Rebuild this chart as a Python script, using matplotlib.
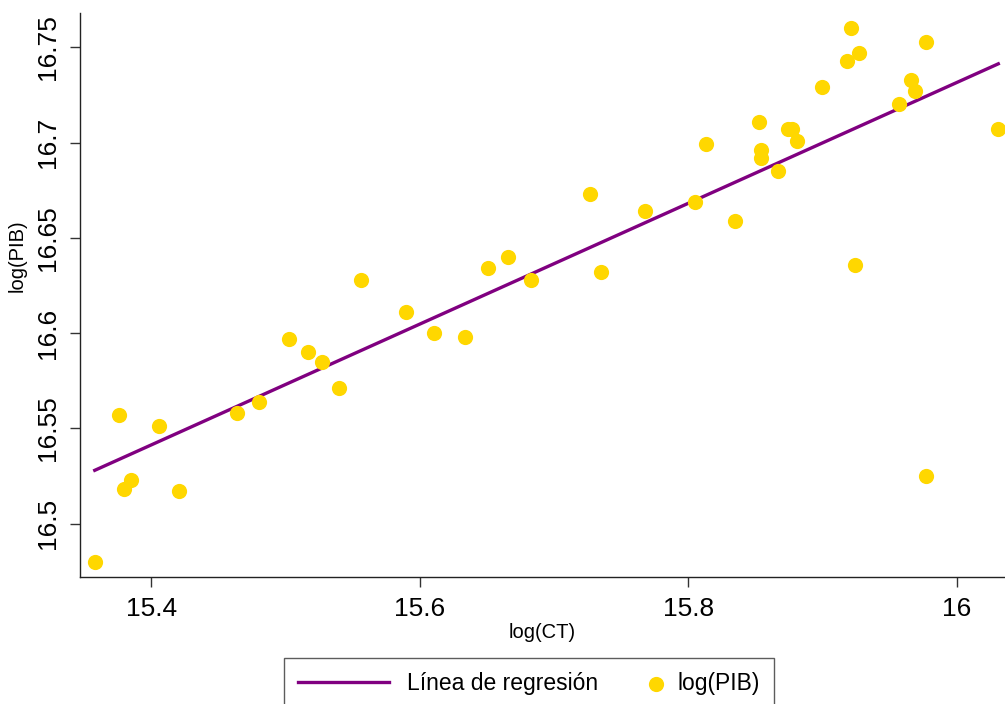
import matplotlib
matplotlib.use("Agg")
import matplotlib.pyplot as plt
from matplotlib.legend_handler import HandlerLine2D

# log(CT) and log(PIB)
log_ct = [15.358, 15.376, 15.380, 15.385, 15.406, 15.421, 15.464, 15.480,
          15.503, 15.517, 15.527, 15.540, 15.556, 15.590, 15.611, 15.634,
          15.651, 15.666, 15.683, 15.727, 15.735, 15.768, 15.805, 15.813,
          15.835, 15.853, 15.854, 15.854, 15.867, 15.874, 15.877, 15.881,
          15.900, 15.918, 15.921, 15.927, 15.924, 15.957, 15.966, 15.969,
          15.977, 16.031, 15.977]
log_pib = [16.480, 16.557, 16.518, 16.523, 16.551, 16.517, 16.558, 16.564,
           16.597, 16.590, 16.585, 16.571, 16.628, 16.611, 16.600, 16.598,
           16.634, 16.640, 16.628, 16.673, 16.632, 16.664, 16.669, 16.699,
           16.659, 16.711, 16.696, 16.692, 16.685, 16.707, 16.707, 16.701,
           16.729, 16.743, 16.760, 16.747, 16.636, 16.720, 16.733, 16.727,
           16.753, 16.707, 16.525]

# fitted line as shown in the chart
reg_intercept = 11.6595
reg_slope = 0.317

x_ticks = [15.4, 15.6, 15.8, 16.0]
x_ticklabels = ["15.4", "15.6", "15.8", "16"]
y_ticks = [16.5, 16.55, 16.6, 16.65, 16.7, 16.75]
y_ticklabels = ["16.5", "16.55", "16.6", "16.65", "16.7", "16.75"]

plt.rcParams["font.family"] = ["Liberation Sans", "DejaVu Sans"]

PURPLE = "#800080"
GOLD = "#FFD700"


class WideLineHandler(HandlerLine2D):
    # longer legend key for the line than for the dot
    def legend_artist(self, legend, orig_handle, fontsize, handlebox):
        handlebox.width = 4.0 * fontsize
        return super().legend_artist(legend, orig_handle, fontsize, handlebox)


fig = plt.figure(figsize=(10.05, 7.04), dpi=100)
ax = fig.add_axes([80 / 1005, 127 / 704, 925 / 1005, 564 / 704])

x0, x1 = min(log_ct), max(log_ct)
line, = ax.plot([x0, x1], [reg_intercept + reg_slope * x0, reg_intercept + reg_slope * x1],
                color=PURPLE, linewidth=2.4, zorder=2, label="Línea de regresión")
pts = ax.scatter(log_ct, log_pib, s=120, color=GOLD, linewidths=0, zorder=3, label="log(PIB)")

ax.set_xlim(15.347, 16.036)
ax.set_ylim(16.472, 16.768)
ax.set_xticks(x_ticks)
ax.set_xticklabels(x_ticklabels)
ax.set_yticks(y_ticks)
ax.set_yticklabels(y_ticklabels, rotation=90, va="center")

ax.spines["top"].set_visible(False)
ax.spines["right"].set_visible(False)
for s in ("left", "bottom"):
    ax.spines[s].set_linewidth(1.0)
    ax.spines[s].set_color("#222222")
ax.tick_params(axis="both", length=7.5, width=1.0, color="#333333", labelsize=19, pad=7)

ax.set_xlabel("log(CT)", fontsize=14.5, labelpad=1)
ax.set_ylabel("log(PIB)", fontsize=14.5)
ax.yaxis.set_label_coords(-0.058, 0.569)

fig.legend(handles=[line, pts], loc="upper left", bbox_to_anchor=(284 / 1005, 1 - 658 / 704),
           ncol=2, fontsize=16.5, frameon=True, fancybox=False, edgecolor="#333333",
           borderaxespad=0, borderpad=0.6, handlelength=0.4, handletextpad=0.75,
           columnspacing=2.35, handler_map={line: WideLineHandler()})

fig.savefig("out.png", dpi=100, facecolor="white")
